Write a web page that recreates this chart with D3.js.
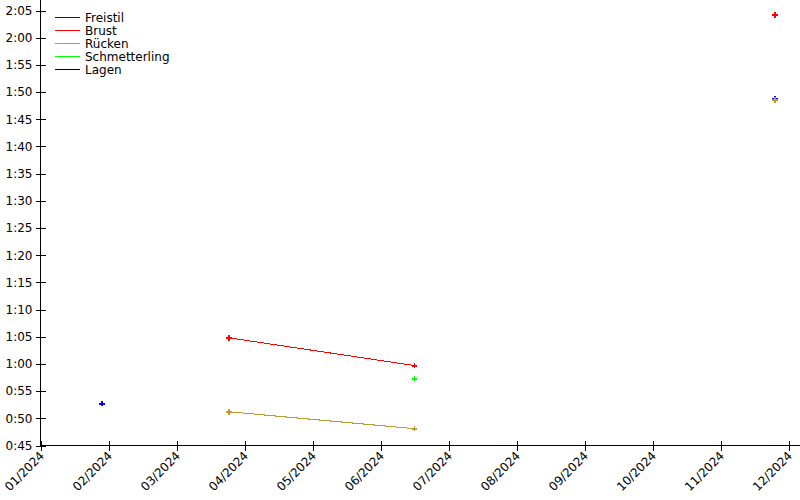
<!DOCTYPE html>
<html>
<head>
<meta charset="utf-8">
<script src="https://cdn.jsdelivr.net/npm/d3@7"></script>
<style>
  html, body { margin: 0; padding: 0; background: #fff; }
  svg { display: block; font-family: "DejaVu Sans", sans-serif; }
</style>
</head>
<body>
<svg id="chart" width="800" height="500"></svg>
<script>
// ---- data ----
const seriesNames = ["Freistil", "Brust", "Rücken", "Schmetterling", "Lagen"];
const seriesColors = ["#0000ff", "#ff0000", "#bb9933", "#00ff00", "#000000"];

// 50 m results (seconds)
const dates50 = ["2024-01-29", "2024-03-25", "2024-06-16"];
const freistil50 = [52.7, null, null];
const brust50 = [null, 64.8, 59.7];
const ruecken50 = [null, 51.2, 48.1];
const schmetterling50 = [null, null, 57.3];
const lagen50 = [null, null, null];

// 100 m results (seconds)
const dates100 = ["2024-11-25"];
const freistil100 = [108.8];
const brust100 = [124.2];
const ruecken100 = [108.5];
const schmetterling100 = [null];
const lagen100 = [null];

const monthTicks = [1, 2, 3, 4, 5, 6, 7, 8, 9, 10, 11, 12];
const monthLabels = ["01/2024", "02/2024", "03/2024", "04/2024", "05/2024", "06/2024",
                     "07/2024", "08/2024", "09/2024", "10/2024", "11/2024", "12/2024"];
const timeTicks = [45, 50, 55, 60, 65, 70, 75, 80, 85, 90, 95, 100, 105, 110, 115, 120, 125];

// ---- helpers ----
function monthPos(s) {
  const d = new Date(s + "T12:00:00");
  const dim = new Date(d.getFullYear(), d.getMonth() + 1, 0).getDate();
  return d.getMonth() + 1 + (d.getDate() - 1) / dim;
}
function fmtTime(sec) {
  const m = Math.floor(sec / 60), s = Math.round(sec % 60);
  return m + ":" + String(s).padStart(2, "0");
}

const groups = [
  { dates: dates50, values: [freistil50, brust50, ruecken50, schmetterling50, lagen50] },
  { dates: dates100, values: [freistil100, brust100, ruecken100, schmetterling100, lagen100] }
];

// ---- layout ----
const svg = d3.select("#chart");
const padL = 40.5, padB = 445.5, padR = 800, padT = 10.5;

const x = d3.scaleLinear().domain([1, 1 + (padR - padL) / 68]).range([padL, padR]);
const y = d3.scaleLinear().domain([45, 125]).range([padB, padT]);

// y axis
const yAxis = svg.append("g").attr("transform", `translate(${padL},0)`)
  .call(d3.axisLeft(y).tickValues(timeTicks).tickFormat(fmtTime).tickSize(5).tickSizeOuter(0));
yAxis.select(".domain").remove();
yAxis.selectAll(".tick line").attr("x1", 5).attr("x2", -5).attr("stroke", "#000").attr("shape-rendering", "crispEdges");
yAxis.selectAll(".tick text").attr("x", -8).attr("font-size", 12).attr("font-family", "DejaVu Sans").attr("fill", "#000");
svg.append("line").attr("x1", padL).attr("x2", padL).attr("y1", 0).attr("y2", padB)
  .attr("stroke", "#000").attr("stroke-width", 1).attr("shape-rendering", "crispEdges");

// x axis
const xAxis = svg.append("g").attr("transform", `translate(0,${padB})`)
  .call(d3.axisBottom(x).tickValues(monthTicks).tickFormat((d, i) => monthLabels[i]).tickSize(5).tickSizeOuter(0));
xAxis.select(".domain").remove();
xAxis.selectAll(".tick line").attr("y1", -5).attr("y2", 5).attr("stroke", "#000").attr("shape-rendering", "crispEdges");
xAxis.selectAll(".tick text")
  .attr("font-size", 12).attr("font-family", "DejaVu Sans").attr("fill", "#000")
  .attr("text-anchor", "end")
  .attr("dy", 0).attr("y", 0)
  .attr("transform", "translate(4,11) rotate(-45)");
svg.append("line").attr("x1", padL).attr("x2", padR).attr("y1", padB).attr("y2", padB)
  .attr("stroke", "#000").attr("stroke-width", 1).attr("shape-rendering", "crispEdges");

// series
const line = d3.line().defined(d => d.v != null).x(d => x(d.m)).y(d => y(d.v));
const cross = d3.symbol().type(d3.symbolCross).size(18);

seriesNames.forEach((name, si) => {
  const g = svg.append("g");
  groups.forEach(grp => {
    const pts = grp.dates.map((dt, i) => ({ m: monthPos(dt), v: grp.values[si][i] }));
    g.append("path").datum(pts).attr("d", line)
      .attr("fill", "none").attr("stroke", seriesColors[si]).attr("stroke-width", 1)
      .attr("shape-rendering", "crispEdges");
    g.selectAll(null).data(pts.filter(p => p.v != null)).enter().append("path")
      .attr("d", cross).attr("fill", seriesColors[si]).attr("shape-rendering", "crispEdges")
      .attr("transform", p => `translate(${x(p.m)},${y(p.v)})`);
  });
});

// legend
const legend = svg.append("g").attr("transform", "translate(55,17)");
seriesNames.forEach((name, i) => {
  const row = legend.append("g").attr("transform", `translate(0,${i * 13})`);
  row.append("rect").attr("x", 0).attr("y", 0).attr("width", 25).attr("height", 1)
    .attr("fill", seriesColors[i]);
  row.append("text").attr("x", 30).attr("y", 0.5).attr("dy", "0.35em")
    .attr("font-size", 12).attr("fill", "#000").text(name);
});
</script>
</body>
</html>
